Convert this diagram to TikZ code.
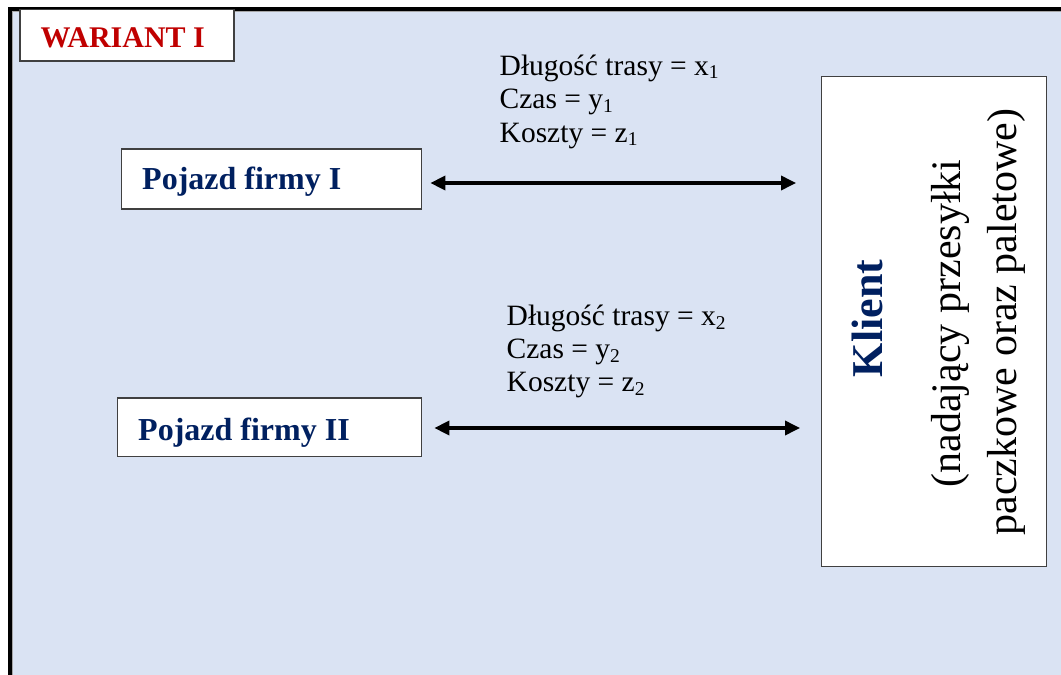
\documentclass[tikz,border=0pt]{standalone}
\usepackage{fontspec}
\setmainfont{Liberation Serif}
\usetikzlibrary{arrows.meta}
\definecolor{panel}{RGB}{218,227,243}
\definecolor{navy}{RGB}{0,32,96}
\definecolor{darkred}{RGB}{192,0,0}
\definecolor{edge}{RGB}{64,64,64}
% small lowered index, as in x1, y1, z1
\newcommand\lowidx[1]{\raisebox{-0.12em}{\fontsize{19.5}{20}\selectfont #1}}
\begin{document}
\begin{tikzpicture}[x=1pt,y=-1pt,
  box/.style={draw=edge, line width=1.3pt, fill=white, inner sep=0pt},
  lbl/.style={font=\fontsize{29.5}{33}\selectfont, anchor=base west, inner sep=0pt},
  head/.style={font=\bfseries\fontsize{32}{36}\selectfont, text=navy, anchor=base west, inner sep=0pt},
  side/.style={font=\fontsize{42}{48}\selectfont, rotate=90, anchor=base, inner sep=0pt},
  link/.style={line width=3.4pt, {Triangle[length=15pt,width=14pt]}-{Triangle[length=15pt,width=14pt]}},
]
\useasboundingbox (0,0) rectangle (1061,675);
\clip (0,0) rectangle (1061,675);

% panel with a heavy rule along the left and top edges
\fill[panel] (10,9) rectangle (1070,690);
\draw[line width=4pt] (10,690) -- (10,9) -- (1070,9);
\draw[gray!70, line width=0.8pt] (12.6,690) -- (12.6,11.6) -- (1070,11.6);

% title tab
\node[box, minimum width=214pt, minimum height=51.5pt] (tab) at (127,35.3) {};
\node[font=\bfseries\fontsize{30}{34}\selectfont, text=darkred, anchor=base west, inner sep=0pt] (title) at (40.5,47) {WARIANT I};

% vehicles
\node[box, minimum width=300pt, minimum height=60pt] (p1) at (271.7,179) {};
\node[head] (p1txt) at (142,189) {Pojazd firmy I};
\node[box, minimum width=304.4pt, minimum height=58.7pt] (p2) at (269.5,427.3) {};
\node[head] (p2txt) at (138,440) {Pojazd firmy II};

% client
\node[box, minimum width=225pt, minimum height=490pt] (k) at (934.2,321.7) {};
\node[side, font=\bfseries\fontsize{44}{48}\selectfont, text=navy] (ktitle) at (882,318.5) {Klient};
\node[side] (kline1) at (960,323.5) {(nadający przesyłki};
\node[side] (kline2) at (1016,322) {paczkowe oraz paletowe)};

% route parameters
\node[lbl] (a1) at (499.5,75) {Długość trasy = x\lowidx{1}};
\node[lbl] (a2) at (499.5,108.5) {Czas = y\lowidx{1}};
\node[lbl] (a3) at (499.5,142) {Koszty = z\lowidx{1}};
\node[lbl] (b1) at (506.5,325.5) {Długość trasy = x\lowidx{2}};
\node[lbl] (b2) at (506.5,358.5) {Czas = y\lowidx{2}};
\node[lbl] (b3) at (506.5,391.5) {Koszty = z\lowidx{2}};

% connections
\draw[link, shorten <=8pt, shorten >=25pt]
  ([yshift=-4pt]p1.east) -- ([yshift=-4pt]p1.east -| k.west);
\draw[link, shorten <=12pt, shorten >=21pt]
  ([yshift=-0.7pt]p2.east) -- ([yshift=-0.7pt]p2.east -| k.west);
\end{tikzpicture}
\end{document}
